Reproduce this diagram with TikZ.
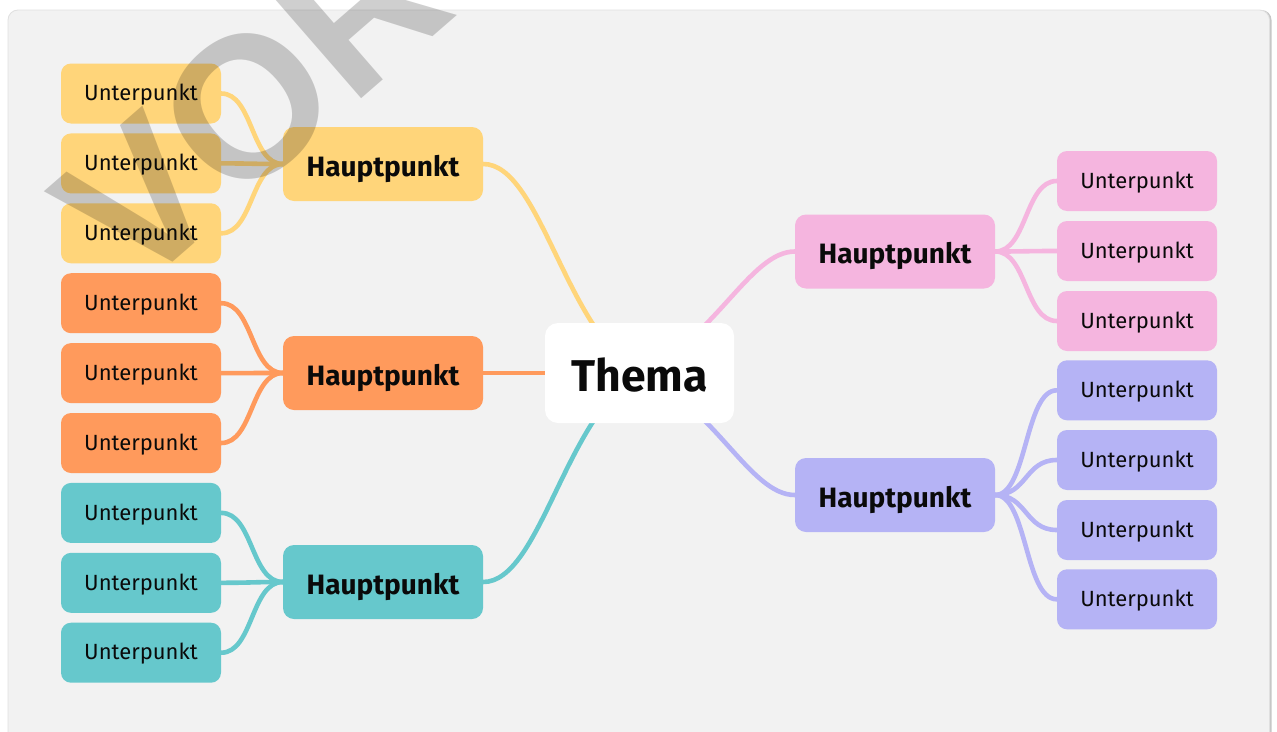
\documentclass[tikz,border=0pt]{standalone}
\usepackage{fontspec}
\setmainfont{Fira Sans}
\newfontfamily\wmfont{Liberation Sans}
\usetikzlibrary{calc}
\definecolor{cyel}{HTML}{FFD57A}
\definecolor{corg}{HTML}{FF9A5C}
\definecolor{ctea}{HTML}{66C8CC}
\definecolor{cpnk}{HTML}{F5B5DF}
\definecolor{cpur}{HTML}{B5B3F5}
\definecolor{cpanel}{HTML}{F2F2F2}
\definecolor{ctext}{HTML}{0A0A0A}
\pgfdeclarelayer{back}
\pgfdeclarelayer{links}
\pgfsetlayers{back,links,main}
\begin{document}
\begin{tikzpicture}[x=1pt,y=-1pt,
  sub/.style={rounded corners=10pt, minimum width=160pt, minimum height=60pt, inner sep=0pt,
    font=\fontsize{22}{22}\selectfont, text=ctext, text height=14.5pt, text depth=0pt},
  hp/.style={rounded corners=11pt, minimum width=200pt, minimum height=74pt, inner sep=0pt,
    font=\bfseries\fontsize{28}{28}\selectfont, text=ctext, text height=24pt, text depth=0pt},
  theme/.style={rounded corners=13pt, minimum width=189pt, minimum height=100pt, inner sep=0pt,
    fill=white, font=\bfseries\fontsize{44.5}{44.5}\selectfont, text=ctext, text height=37pt, text depth=0pt},
  link/.style={line width=4.6pt, line cap=round},
]
\useasboundingbox (0,0) rectangle (1277,731);
\begin{pgfonlayer}{back}
  \fill[white] (0,0) rectangle (1277,731);
  \begin{scope}
    \clip (0,0) rectangle (1277,731);
    \fill[black!22, rounded corners=10pt] (9.5,10) rectangle (1271.5,760);
    \fill[cpanel, draw=black!12, line width=0.8pt, rounded corners=10pt] (8,10) rectangle (1269.5,760);
  \end{scope}
\end{pgfonlayer}

% central theme
\node[theme] (thema) at (639.5,373) {Thema};

% main points
\node[hp, fill=cyel] (hy) at (383,164) {Hauptpunkt};
\node[hp, fill=corg] (ho) at (383,373) {Hauptpunkt};
\node[hp, fill=ctea] (ht) at (383,582) {Hauptpunkt};
\node[hp, fill=cpnk] (hpk) at (895,251.5) {Hauptpunkt};
\node[hp, fill=cpur] (hpu) at (895,495) {Hauptpunkt};

% left sub points
\node[sub, fill=cyel] (y1) at (141,93.5) {Unterpunkt};
\node[sub, fill=cyel] (y2) at (141,163.4) {Unterpunkt};
\node[sub, fill=cyel] (y3) at (141,233.3) {Unterpunkt};
\node[sub, fill=corg] (o1) at (141,303.2) {Unterpunkt};
\node[sub, fill=corg] (o2) at (141,373.1) {Unterpunkt};
\node[sub, fill=corg] (o3) at (141,443) {Unterpunkt};
\node[sub, fill=ctea] (t1) at (141,512.9) {Unterpunkt};
\node[sub, fill=ctea] (t2) at (141,582.8) {Unterpunkt};
\node[sub, fill=ctea] (t3) at (141,652.7) {Unterpunkt};

% right sub points
\node[sub, fill=cpnk] (p1) at (1137,181) {Unterpunkt};
\node[sub, fill=cpnk] (p2) at (1137,251) {Unterpunkt};
\node[sub, fill=cpnk] (p3) at (1137,321) {Unterpunkt};
\node[sub, fill=cpur] (u1) at (1137,390.3) {Unterpunkt};
\node[sub, fill=cpur] (u2) at (1137,460) {Unterpunkt};
\node[sub, fill=cpur] (u3) at (1137,530) {Unterpunkt};
\node[sub, fill=cpur] (u4) at (1137,599.3) {Unterpunkt};

\begin{pgfonlayer}{links}
  % theme to main points
  \draw[link, cyel] (hy.east) .. controls +(57,0) and (565,330) .. (thema.center);
  \draw[link, corg] (ho.east) -- (thema.center);
  \draw[link, ctea] (ht.east) .. controls +(57,0) and (565,416) .. (thema.center);
  \draw[link, cpnk] (hpk.west) .. controls +(-45,0) and (715,340) .. (thema.center);
  \draw[link, cpur] (hpu.west) .. controls +(-45,0) and (715,406) .. (thema.center);
  % main points to sub points
  \foreach \s in {y1,y2,y3}
    \draw[link, cyel] (\s.east) .. controls +(32,0) and +(-32,0) .. (hy.west);
  \foreach \s in {o1,o2,o3}
    \draw[link, corg] (\s.east) .. controls +(32,0) and +(-32,0) .. (ho.west);
  \foreach \s in {t1,t2,t3}
    \draw[link, ctea] (\s.east) .. controls +(32,0) and +(-32,0) .. (ht.west);
  \foreach \s in {p1,p2,p3}
    \draw[link, cpnk] (hpk.east) .. controls +(32,0) and +(-32,0) .. (\s.west);
  \foreach \s in {u1,u2,u3,u4}
    \draw[link, cpur] (hpu.east) .. controls +(32,0) and +(-32,0) .. (\s.west);
\end{pgfonlayer}

% watermark
\begin{scope}
  \clip (0,0) rectangle (1277,731);
  \node[rotate=41, anchor=base west, inner sep=0pt, text=black, text opacity=0.19,
    font=\wmfont\bfseries\fontsize{200}{200}\selectfont] (wm) at (133,297) {VORSCHAU};
\end{scope}
\end{tikzpicture}
\end{document}
